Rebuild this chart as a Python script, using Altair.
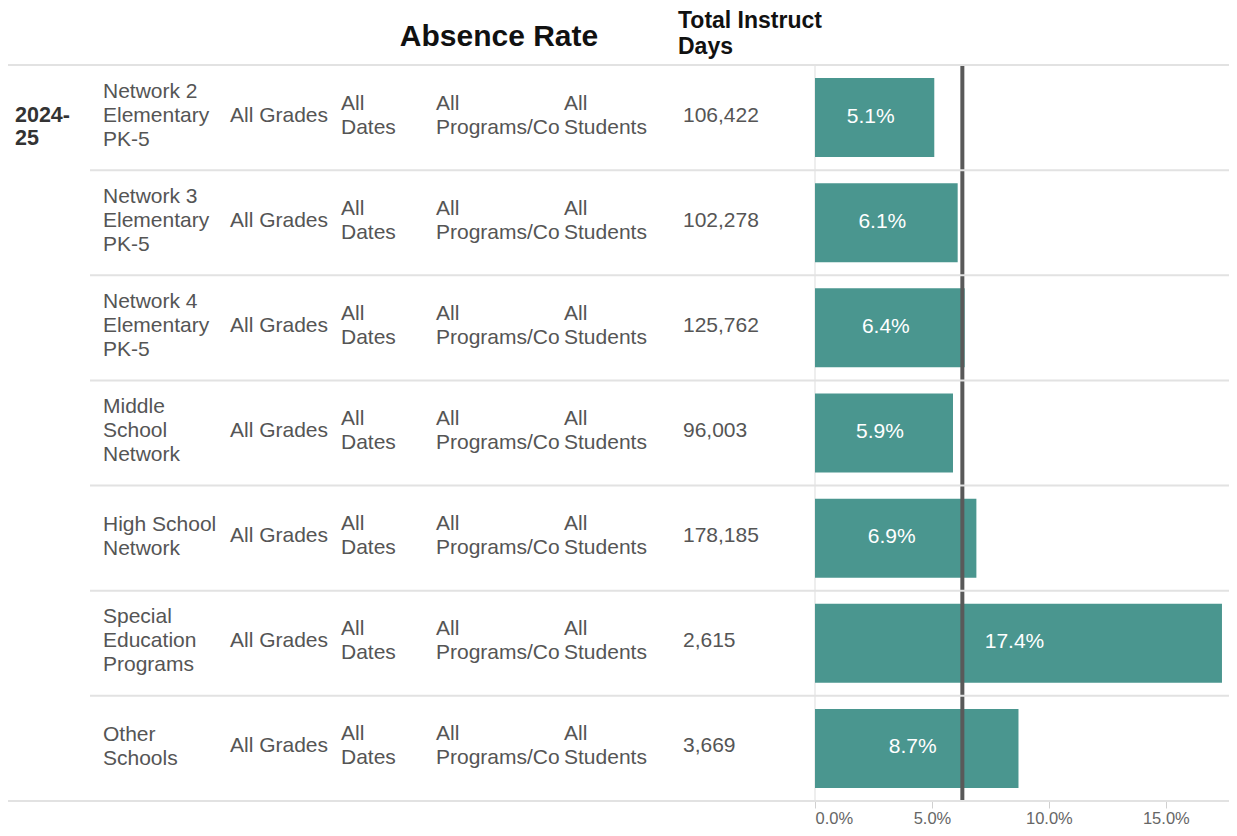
import altair as alt
import pandas as pd

# ---- data ----
schools = [
    "Network 2\nElementary\nPK-5",
    "Network 3\nElementary\nPK-5",
    "Network 4\nElementary\nPK-5",
    "Middle\nSchool\nNetwork",
    "High School\nNetwork",
    "Special\nEducation\nPrograms",
    "Other\nSchools",
]
grades = ["All Grades"] * 7
dates = ["All\nDates"] * 7
programs = ["All\nPrograms/Co"] * 7
students = ["All\nStudents"] * 7
instruct_days = [106422, 102278, 125762, 96003, 178185, 2615, 3669]
absence_rate = [0.051, 0.061, 0.064, 0.059, 0.069, 0.174, 0.087]
school_year = ["2024-\n25"]
average_rate = 0.063
x_ticks = [0.0, 0.05, 0.10, 0.15]
headers = ["Absence Rate", "Total Instruct\nDays"]

df = pd.DataFrame({
    "row": schools,
    "grades": grades,
    "dates": dates,
    "programs": programs,
    "students": students,
    "days": instruct_days,
    "rate": absence_rate,
})
df["avg"] = average_rate
df["zero"] = 0.0

FONT = "Liberation Sans"
TXT = "#555555"
FS = 21
W, H = 1221, 793
STEP = (793 - 57) / 7

yscale = alt.Scale(domain=schools, range=[57, 793], paddingInner=0, paddingOuter=0)
xscale = alt.Scale(domain=[0, 0.18], range=[807, 1228], nice=False)


def Y(**kw):
    return alt.Y("row:N", scale=yscale, axis=None, sort=schools, **kw)


base = alt.Chart(df)

# light zero line and the average reference line (one segment per row)
zero_line = base.mark_tick(color="#dedede", thickness=1, size=STEP, opacity=1).encode(
    x=alt.X("zero:Q", scale=xscale, title=None), y=Y()
)

bars = base.mark_bar(height=79, color="#4a968f").encode(
    x=alt.X(
        "rate:Q",
        scale=xscale,
        title=None,
        axis=alt.Axis(
            values=x_ticks, format=".1%", title=None, domain=False, grid=False,
            ticks=True, tickColor="#d0d0d0", tickSize=7, labelPadding=2,
            labelColor="#666666", labelFontSize=16.5, labelFont=FONT, labelFlush=True,
        ),
    ),
    y=Y(),
)

avg_line = base.mark_tick(color="#595959", thickness=4, size=STEP, opacity=1).encode(
    x=alt.X("avg:Q", scale=xscale, title=None), y=Y()
)

# row separator lines
first_line = base.transform_filter(alt.datum.row == schools[0]).mark_rule(
    color="#e2e2e2", strokeWidth=2
).encode(y=Y(bandPosition=0), x=alt.value(0), x2=alt.value(W))
mid_lines = base.transform_filter(alt.datum.row != schools[0]).mark_rule(
    color="#e2e2e2", strokeWidth=2
).encode(y=Y(bandPosition=0), x=alt.value(82), x2=alt.value(W))
bottom_line = base.transform_filter(alt.datum.row == schools[-1]).mark_rule(
    color="#e2e2e2", strokeWidth=2
).encode(y=Y(bandPosition=1), x=alt.value(0), x2=alt.value(W))

bar_labels = base.transform_calculate(mid="datum.rate / 2").mark_text(
    font=FONT, fontSize=FS, color="white", align="center", baseline="middle",
    dy=-1, dx=-4
).encode(
    x=alt.X("mid:Q", scale=xscale, title=None),
    y=Y(),
    text=alt.Text("rate:Q", format=".1%"),
)


def col(field, xpos, dy, data=None, **kw):
    ch = data if data is not None else base
    return ch.mark_text(
        font=FONT, fontSize=FS, color=TXT, align="left", baseline="middle",
        lineBreak="\n", lineHeight=24, dy=dy, **kw
    ).encode(x=alt.value(xpos), y=Y(), text=field)


counted = base.transform_calculate(nl="split(datum.row, '\\n').length")
name3 = col("row:N", 95, -26, data=counted.transform_filter("datum.nl == 3"))
name2 = col("row:N", 95, -13, data=counted.transform_filter("datum.nl == 2"))
grade_col = col("grades:N", 222, -2)
date_col = col("dates:N", 333, -14)
prog_col = col("programs:N", 428, -14)
stud_col = col("students:N", 556, -14)
days_col = base.mark_text(
    font=FONT, fontSize=FS, color=TXT, align="left", baseline="middle", dy=-2
).encode(x=alt.value(675), y=Y(), text=alt.Text("days:Q", format=","))

year_df = pd.DataFrame({"row": [schools[0]], "year": school_year})
year_col = alt.Chart(year_df).mark_text(
    font=FONT, fontSize=21.5, fontWeight="bold", color="#333333", align="left",
    baseline="middle", lineBreak="\n", lineHeight=23, dy=-2
).encode(x=alt.value(7), y=Y(), text="year:N")

hdr1 = alt.Chart(pd.DataFrame({"t": [headers[0]]})).mark_text(
    font=FONT, fontSize=30, fontWeight="bold", color="#111111", align="center",
    baseline="middle"
).encode(x=alt.value(491), y=alt.value(29), text="t:N")
hdr2 = alt.Chart(pd.DataFrame({"t": [headers[1]]})).mark_text(
    font=FONT, fontSize=23, fontWeight="bold", color="#111111", align="left",
    baseline="middle", lineBreak="\n", lineHeight=26
).encode(x=alt.value(670), y=alt.value(12.5), text="t:N")

chart = alt.layer(
    zero_line, bars, avg_line, first_line, mid_lines, bottom_line, bar_labels,
    name3, name2, grade_col, date_col, prog_col, stud_col, days_col, year_col,
    hdr1, hdr2,
).properties(
    width=W, height=H,
    padding={"left": 0, "top": 0, "right": 0, "bottom": 27},
    autosize=alt.AutoSizeParams(type="none"),
).configure(background="white").configure_view(stroke=None)

chart.save("out.html", embed_options={"renderer": "svg", "actions": False})
